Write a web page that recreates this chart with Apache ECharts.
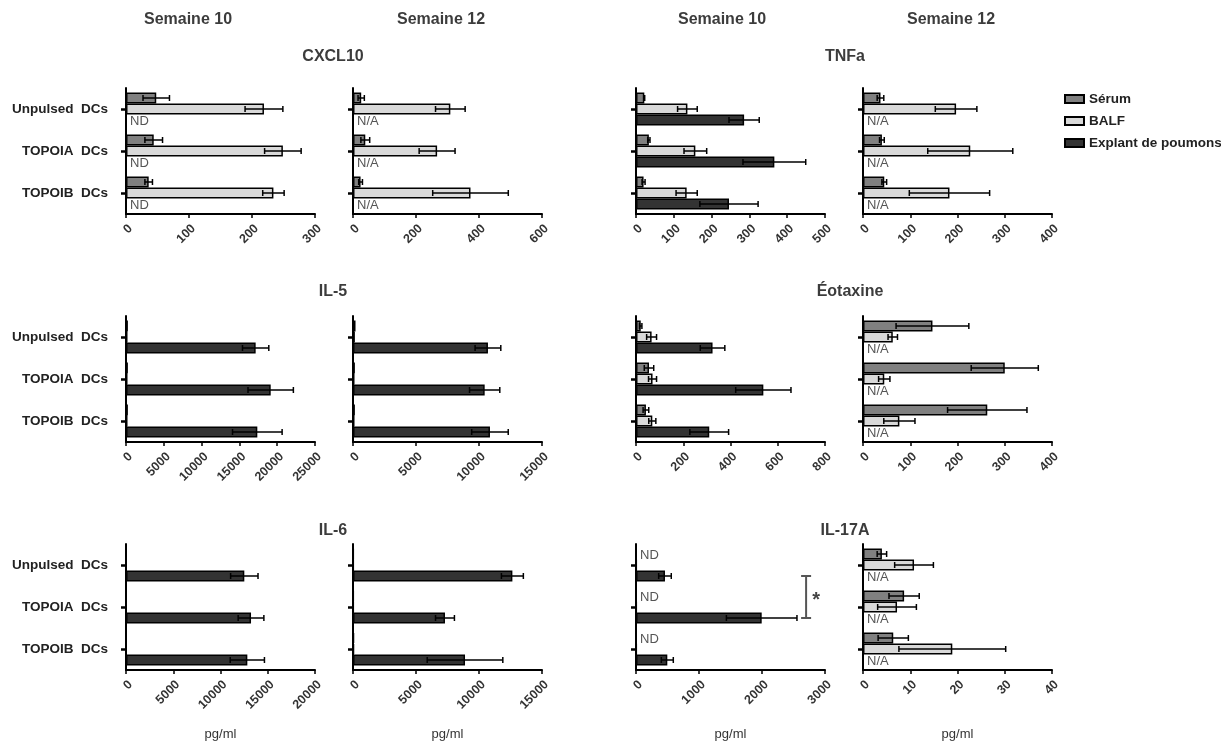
<!DOCTYPE html>
<html><head><meta charset="utf-8">
<script src="https://cdn.jsdelivr.net/npm/echarts@6/dist/echarts.min.js"></script>
<style>html,body{margin:0;padding:0;background:#fff}#c{width:1221px;height:746px}</style>
</head><body><div id="c"></div>
<script>
const categories = ['Unpulsed  DCs', 'TOPOIA  DCs', 'TOPOIB  DCs'];
const seriesNames = ['Sérum', 'BALF', 'Explant de poumons'];
const weekTitles = ['Semaine 10', 'Semaine 12', 'Semaine 10', 'Semaine 12'];
const cytokines = ['CXCL10', 'TNFa', 'IL-5', 'Éotaxine', 'IL-6', 'IL-17A'];
const unitLabel = 'pg/ml';

// [Sérum per category], [BALF per category], [Explant per category]
const cxcl10W10 = [[48, 44, 36], [219, 249, 234], [null, null, null]];
const cxcl10W10Err = [[21, 14, 6], [30, 29, 17], [0, 0, 0]];
const cxcl10W12 = [[26, 39, 24], [309, 267, 373], [null, null, null]];
const cxcl10W12Err = [[10, 14, 6], [47, 57, 120], [0, 0, 0]];
const tnfW10 = [[22, 34, 20], [136, 157, 134], [286, 366, 246]];
const tnfW10Err = [[1, 3, 4], [26, 30, 28], [40, 83, 77]];
const tnfW12 = [[37, 40, 45], [197, 227, 183], [null, null, null]];
const tnfW12Err = [[7, 5, 5], [44, 90, 85], [0, 0, 0]];
const il5W10 = [[250, 250, 250], [200, 200, 200], [17150, 19140, 17370]];
const il5W10Err = [[0, 0, 0], [0, 0, 0], [1740, 3000, 3280]];
const il5W12 = [[200, 150, 150], [150, 120, 120], [10710, 10450, 10870]];
const il5W12Err = [[0, 0, 0], [0, 0, 0], [1020, 1200, 1450]];
const eotW10 = [[20, 55, 42], [66, 70, 69], [324, 539, 310]];
const eotW10Err = [[5, 20, 12], [21, 17, 15], [52, 117, 82]];
const eotW12 = [[147, 300, 263], [63, 45, 77], [null, null, null]];
const eotW12Err = [[77, 71, 84], [10, 12, 33], [0, 0, 0]];
const il6W10 = [[50, 50, 50], [50, 50, 50], [12520, 13230, 12840]];
const il6W10Err = [[0, 0, 0], [0, 0, 0], [1450, 1360, 1810]];
const il6W12 = [[50, 50, 80], [50, 50, 80], [12650, 7300, 8890]];
const il6W12Err = [[0, 0, 0], [0, 0, 0], [870, 750, 3000]];
const il17W10 = [[null, null, null], [10, 10, 10], [460, 1995, 497]];
const il17W10Err = [[0, 0, 0], [0, 0, 0], [100, 560, 95]];
const il17W12 = [[4.0, 8.7, 6.4], [10.8, 7.2, 18.9], [null, null, null]];
const il17W12Err = [[1, 3.2, 3.2], [4.1, 4.1, 11.3], [0, 0, 0]];

// per-series slot annotations
const cxcl10W10Notes = [null, null, 'ND'];
const cxcl10W12Notes = [null, null, 'N/A'];
const tnfW12Notes = [null, null, 'N/A'];
const eotW12Notes = [null, null, 'N/A'];
const il17W10Notes = ['ND', null, null];
const il17W12Notes = [null, null, 'N/A'];
const noNotes = [null, null, null];

// x-axis ticks
const axisMax = [300, 600, 500, 400, 25000, 15000, 800, 400, 20000, 15000, 3000, 40];
const axisStep = [100, 200, 100, 100, 5000, 5000, 200, 100, 5000, 5000, 1000, 10];

// significance bracket on IL-17A week 10: [x value, from category, to category, slot]
const il17W10Bracket = [2700, 0, 1, 2];
const bracketLabel = '*';

const panelMeans = [cxcl10W10, cxcl10W12, tnfW10, tnfW12, il5W10, il5W12, eotW10, eotW12, il6W10, il6W12, il17W10, il17W12];
const panelErrs = [cxcl10W10Err, cxcl10W12Err, tnfW10Err, tnfW12Err, il5W10Err, il5W12Err, eotW10Err, eotW12Err, il6W10Err, il6W12Err, il17W10Err, il17W12Err];
const panelNotes = [cxcl10W10Notes, cxcl10W12Notes, noNotes, tnfW12Notes, noNotes, noNotes, noNotes, eotW12Notes, noNotes, noNotes, il17W10Notes, il17W12Notes];

// ---- layout / style ----
const colLeft = [126, 353, 636, 863];
const rowTop = [88, 316, 544];
const plotW = 189, plotH = 126;
const BAR_W = 11;
const colors = ['#808080', '#d9d9d9', '#333333'];
const FONT = 'Liberation Sans, Arial, sans-serif';

const grids = [], xAxes = [], yAxes = [], series = [];
for (let p = 0; p < 12; p++) {
  const r = Math.floor(p / 4), c = p % 4;
  grids.push({ left: colLeft[c], top: rowTop[r], width: plotW, height: plotH });
  xAxes.push({
    type: 'value', gridIndex: p, min: 0, max: axisMax[p], interval: axisStep[p],
    splitLine: { show: false },
    axisLine: { show: true, lineStyle: { color: '#000', width: 2 } },
    axisTick: { show: true, length: 4, lineStyle: { color: '#000', width: 1.5 } },
    axisLabel: { rotate: 45, margin: 8, fontSize: 12.5, fontWeight: 'bold', color: '#333', verticalAlign: 'top', fontFamily: FONT,
      formatter: function (v) { return String(v); } },
    name: r === 2 ? unitLabel : '', nameLocation: 'middle', nameGap: 58,
    nameTextStyle: { fontSize: 13, color: '#333', fontFamily: FONT }
  });
  yAxes.push({
    type: 'category', gridIndex: p, data: categories, inverse: true,
    axisLine: { show: true, lineStyle: { color: '#000', width: 2 } },
    axisTick: { show: true, alignWithLabel: true, length: 5, lineStyle: { color: '#000', width: 2.5 } },
    axisLabel: { show: c === 0, margin: 18, fontSize: 13.5, fontWeight: 'bold', color: '#222', fontFamily: FONT },
    splitLine: { show: false }
  });
  for (let s = 0; s < 3; s++) {
    series.push({
      type: 'bar', name: seriesNames[s], xAxisIndex: p, yAxisIndex: p,
      barWidth: BAR_W, barGap: '0%', data: panelMeans[p][s],
      itemStyle: { color: colors[s], borderColor: '#000', borderWidth: 1.5 },
      emphasis: { disabled: true }, z: 2
    });
  }
  const errData = [];
  for (let s = 0; s < 3; s++) for (let k = 0; k < 3; k++) {
    const m = panelMeans[p][s][k], e = panelErrs[p][s][k];
    if (m != null && e > 0) errData.push([k, s, m, e]);
  }
  series.push({
    type: 'custom', xAxisIndex: p, yAxisIndex: p, z: 5, silent: true,
    dimensions: ['cat', 'slot', 'mean', 'err'], encode: { x: 2, y: 0 },
    data: errData,
    renderItem: function (params, api) {
      const cat = api.value(0), s = api.value(1), m = api.value(2), e = api.value(3);
      const y = api.coord([m, cat])[1] + (s - 1) * BAR_W;
      const xl = api.coord([m - e, cat])[0], xr = api.coord([m + e, cat])[0];
      const h = 3, st = { stroke: '#000', lineWidth: 1.5 };
      return { type: 'group', children: [
        { type: 'line', shape: { x1: xl, y1: y, x2: xr, y2: y }, style: st },
        { type: 'line', shape: { x1: xl, y1: y - h, x2: xl, y2: y + h }, style: st },
        { type: 'line', shape: { x1: xr, y1: y - h, x2: xr, y2: y + h }, style: st }
      ] };
    }
  });
  const notes = panelNotes[p];
  const noteData = [];
  for (let s = 0; s < 3; s++) if (notes[s]) for (let k = 0; k < 3; k++) noteData.push([k, s]);
  if (noteData.length) {
    series.push({
      type: 'custom', xAxisIndex: p, yAxisIndex: p, z: 6, silent: true,
      encode: { x: 1, y: 0 }, data: noteData,
      renderItem: (function (nt) {
        return function (params, api) {
          const cat = api.value(0), s = api.value(1);
          const pt = api.coord([0, cat]);
          return { type: 'text', x: pt[0] + 4, y: pt[1] + (s - 1) * BAR_W + 1,
            style: { text: nt[s], fill: '#555', font: '13px ' + FONT, verticalAlign: 'middle', align: 'left' } };
        };
      })(notes)
    });
  }
}

// significance bracket (panel 10)
series.push({
  type: 'custom', xAxisIndex: 10, yAxisIndex: 10, z: 6, silent: true,
  encode: { x: 0, y: 1 }, data: [il17W10Bracket],
  renderItem: function (params, api) {
    const xv = api.value(0), c1 = api.value(1), c2 = api.value(2), s = api.value(3);
    const p1 = api.coord([xv, c1]), p2 = api.coord([xv, c2]);
    const y1 = p1[1] + (s - 1) * BAR_W, y2 = p2[1] + (s - 1) * BAR_W;
    const st = { stroke: '#555', lineWidth: 2 };
    return { type: 'group', children: [
      { type: 'line', shape: { x1: p1[0], y1: y1, x2: p1[0], y2: y2 }, style: st },
      { type: 'line', shape: { x1: p1[0] - 5, y1: y1, x2: p1[0] + 5, y2: y1 }, style: st },
      { type: 'line', shape: { x1: p1[0] - 5, y1: y2, x2: p1[0] + 5, y2: y2 }, style: st },
      { type: 'text', x: p1[0] + 10, y: (y1 + y2) / 2 + 3, style: { text: bracketLabel, fill: '#444', font: 'bold 20px ' + FONT, align: 'center', verticalAlign: 'middle' } }
    ] };
  }
});

const titleStyle = { fill: '#3c3c3c', font: 'bold 16px ' + FONT, align: 'center', verticalAlign: 'middle' };
const weekX = [188, 441, 722, 951];
const cytoPos = [[333, 57], [845, 57], [333, 292], [850, 292], [333, 531], [845, 531]];
const graphics = [];
weekTitles.forEach((t, i) => graphics.push({ type: 'text', x: weekX[i], y: 20, style: Object.assign({ text: t }, titleStyle) }));
cytokines.forEach((t, i) => graphics.push({ type: 'text', x: cytoPos[i][0], y: cytoPos[i][1], style: Object.assign({ text: t }, titleStyle) }));

const chart = echarts.init(document.getElementById('c'), null, { renderer: 'canvas' });
chart.setOption({
  animation: false,
  backgroundColor: '#fff',
  textStyle: { fontFamily: FONT },
  grid: grids, xAxis: xAxes, yAxis: yAxes, series: series,
  graphic: graphics,
  legend: {
    orient: 'vertical', left: 1059, top: 87, itemWidth: 19, itemHeight: 8, itemGap: 8,
    icon: 'rect', selectedMode: false, data: seriesNames,
    textStyle: { fontSize: 13.5, fontWeight: 'bold', color: '#222', fontFamily: FONT }
  }
});
</script></body></html>
